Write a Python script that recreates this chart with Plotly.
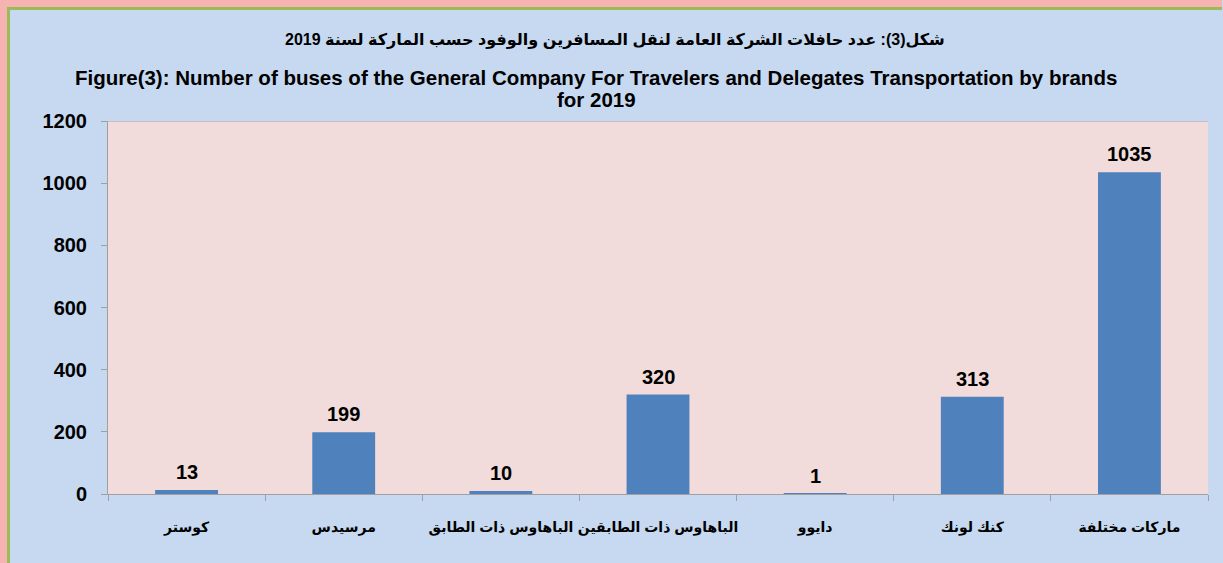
import plotly.graph_objects as go

categories = ["كوستر", "مرسيدس", "الباهاوس ذات الطابق", "الباهاوس ذات الطابقين",
              "دايوو", "كنك لونك", "ماركات مختلفة"]
values = [13, 199, 10, 320, 1, 313, 1035]
y_ticks = [0, 200, 400, 600, 800, 1000, 1200]

title_ar = "شكل(3): عدد حافلات الشركة العامة لنقل المسافرين والوفود حسب الماركة لسنة 2019"
title_en1 = "Figure(3): Number of buses of the General Company For Travelers and Delegates Transportation by brands"
title_en2 = "for 2019"

W, H = 1223, 563
L, R, T, B = 108, 1208, 121, 494
FONT = "Arial, 'Liberation Sans', 'DejaVu Sans', sans-serif"


def px2x(x):
    return (x - L) / (R - L)


def px2y(y):
    return (B - y) / (B - T)


fig = go.Figure()
fig.add_trace(go.Bar(
    x=categories, y=values, width=0.4,
    marker=dict(color="#4F81BD", line=dict(width=0)),
    hoverinfo="x+y",
))

shapes = [
    # pink outer border (top and left)
    dict(type="rect", xref="paper", yref="paper", x0=px2x(0), x1=px2x(W - 1),
         y0=px2y(7), y1=px2y(0), fillcolor="#F7B3B1", line=dict(width=0), layer="below"),
    dict(type="rect", xref="paper", yref="paper", x0=px2x(0), x1=px2x(7),
         y0=px2y(H), y1=px2y(0), fillcolor="#F7B3B1", line=dict(width=0), layer="below"),
    # green inner border
    dict(type="rect", xref="paper", yref="paper", x0=px2x(7), x1=px2x(W - 1),
         y0=px2y(10), y1=px2y(7), fillcolor="#9BBB59", line=dict(width=0), layer="below"),
    dict(type="rect", xref="paper", yref="paper", x0=px2x(7), x1=px2x(10),
         y0=px2y(H), y1=px2y(7), fillcolor="#9BBB59", line=dict(width=0), layer="below"),
    # top line of plot area
    dict(type="line", xref="paper", yref="y", x0=0, x1=1, y0=1200, y1=1200,
         line=dict(color="#A0A0A0", width=1), layer="below"),
]

annotations = [
    dict(text="<b>" + title_ar + "</b>", xref="paper", yref="paper",
         x=px2x(615), y=px2y(40), xanchor="center", yanchor="middle", showarrow=False,
         font=dict(family=FONT, size=16, color="#000000")),
    dict(text="<b>" + title_en1 + "</b>", xref="paper", yref="paper",
         x=px2x(596), y=px2y(78), xanchor="center", yanchor="middle", showarrow=False,
         font=dict(family=FONT, size=20.5, color="#000000")),
    dict(text="<b>" + title_en2 + "</b>", xref="paper", yref="paper",
         x=px2x(596), y=px2y(100), xanchor="center", yanchor="middle", showarrow=False,
         font=dict(family=FONT, size=20.5, color="#000000")),
]
# data labels above the bars
for c, v in zip(categories, values):
    annotations.append(dict(
        text="<b>%d</b>" % v, x=c, y=v, xref="x", yref="y",
        xanchor="center", yanchor="bottom", yshift=5, showarrow=False,
        font=dict(family=FONT, size=20, color="#000000")))

fig.update_layout(
    width=W, height=H, autosize=False,
    margin=dict(l=L, r=W - R, t=T, b=H - B, pad=0, autoexpand=False),
    paper_bgcolor="#C6D9F1",
    plot_bgcolor="#F2DCDB",
    showlegend=False,
    shapes=shapes,
    annotations=annotations,
    bargap=0.6,
    font=dict(family=FONT, color="#000000"),
)

fig.update_xaxes(
    type="category", tickson="boundaries", ticks="outside", ticklen=6,
    tickcolor="#A0A0A0", showline=True, linecolor="#A0A0A0", linewidth=1,
    showgrid=False, ticklabelstandoff=20, tickangle=0, automargin=False,
    tickfont=dict(family=FONT, size=14, color="#000000"),
    tickprefix="<b>", ticksuffix="</b>",
)

fig.update_yaxes(
    range=[0, 1200], tickvals=y_ticks, ticktext=["<b>%d</b>" % v for v in y_ticks],
    ticks="outside", ticklen=6, tickcolor="#A0A0A0",
    showline=True, linecolor="#A0A0A0", linewidth=1, showgrid=False,
    zeroline=False, ticklabelstandoff=10, automargin=False,
    tickfont=dict(family=FONT, size=20, color="#000000"),
)

fig.write_html(
    "out.html",
    config={"responsive": False, "displayModeBar": False},
    post_script=(
        "document.body.style.margin='0';document.body.style.overflow='hidden';"
        "document.body.style.background='#C6D9F1';"
        "document.documentElement.style.background='#C6D9F1';"
    ),
)
